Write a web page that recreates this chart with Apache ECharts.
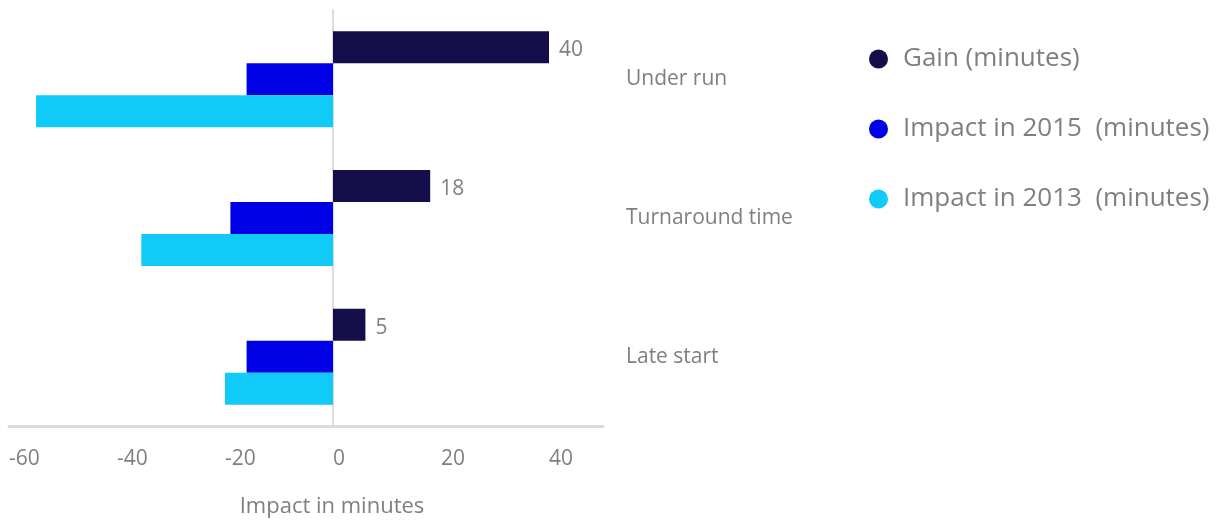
<!DOCTYPE html>
<html>
<head>
<meta charset="utf-8">
<script src="https://cdn.jsdelivr.net/npm/echarts@6/dist/echarts.min.js"></script>
<style>html,body{margin:0;padding:0;background:#fff}#c{width:1229px;height:520px}</style>
</head>
<body>
<div id="c"></div>
<script>
const categories = ['Under run', 'Turnaround time', 'Late start'];
const seriesNames = ['Gain (minutes)', 'Impact in 2015  (minutes)', 'Impact in 2013  (minutes)'];
const gainValues = [40, 18, 6];
const gainLabels = ['40', '18', '5'];
const impact2015 = [-16, -19, -16];
const impact2013 = [-55, -35.5, -20];
const xTicks = [-60, -40, -20, 0, 20, 40];

const FONT = '"Open Sans", Lato, sans-serif';
const GREY = '#7f7f7f';
const chart = echarts.init(document.getElementById('c'));
chart.setOption({
  animation: false,
  textStyle: { fontFamily: FONT },
  legend: {
    orient: 'vertical', left: 864, top: 41,
    icon: 'circle', itemWidth: 19, itemHeight: 19, itemGap: 44,
    textStyle: { fontSize: 26, lineHeight: 20, color: GREY, fontFamily: FONT, padding: [0, 0, 0, 10] },
    data: seriesNames
  },
  grid: { left: 9, right: 626, top: 10, bottom: 94, outerBoundsMode: 'none' },
  xAxis: {
    type: 'value', min: -60, max: 50, interval: 20,
    axisLine: { show: true, onZero: false, lineStyle: { color: '#dcdcdc', width: 3 } },
    axisTick: { show: false },
    splitLine: { show: false },
    axisLabel: {
      fontSize: 21, color: GREY, margin: 23, align: 'left', fontFamily: FONT,
      customValues: xTicks
    },
    name: 'Impact in minutes', nameLocation: 'middle', nameGap: 70,
    nameTextStyle: { fontSize: 22, color: GREY, fontFamily: FONT, padding: [0, 0, 0, 52] }
  },
  yAxis: [{
    type: 'category', data: categories, inverse: true,
    axisLine: { show: true, onZero: true, lineStyle: { color: '#dcdcdc', width: 2 } },
    axisTick: { show: false }, axisLabel: { show: false }, splitLine: { show: false }
  }, {
    type: 'category', data: categories, inverse: true, position: 'right',
    axisLine: { show: false, onZero: false }, axisTick: { show: false },
    axisLabel: { show: true, align: 'left', margin: 23, fontSize: 21, color: GREY, fontFamily: FONT,
      padding: [6, 0, 0, 0] }
  }],
  series: [
    { name: seriesNames[0], type: 'bar', data: gainValues, barWidth: 32, barGap: '0%',
      itemStyle: { color: '#140f4b' },
      label: { show: true, position: 'right', distance: 10, offset: [0, 3], fontSize: 21, color: GREY, fontFamily: FONT,
        formatter: p => gainLabels[p.dataIndex] } },
    { name: seriesNames[1], type: 'bar', data: impact2015, barWidth: 32, barGap: '0%',
      itemStyle: { color: '#0000e6' } },
    { name: seriesNames[2], type: 'bar', data: impact2013, barWidth: 32, barGap: '0%',
      itemStyle: { color: '#10cbf7' } }
  ]
});
</script>
</body>
</html>
